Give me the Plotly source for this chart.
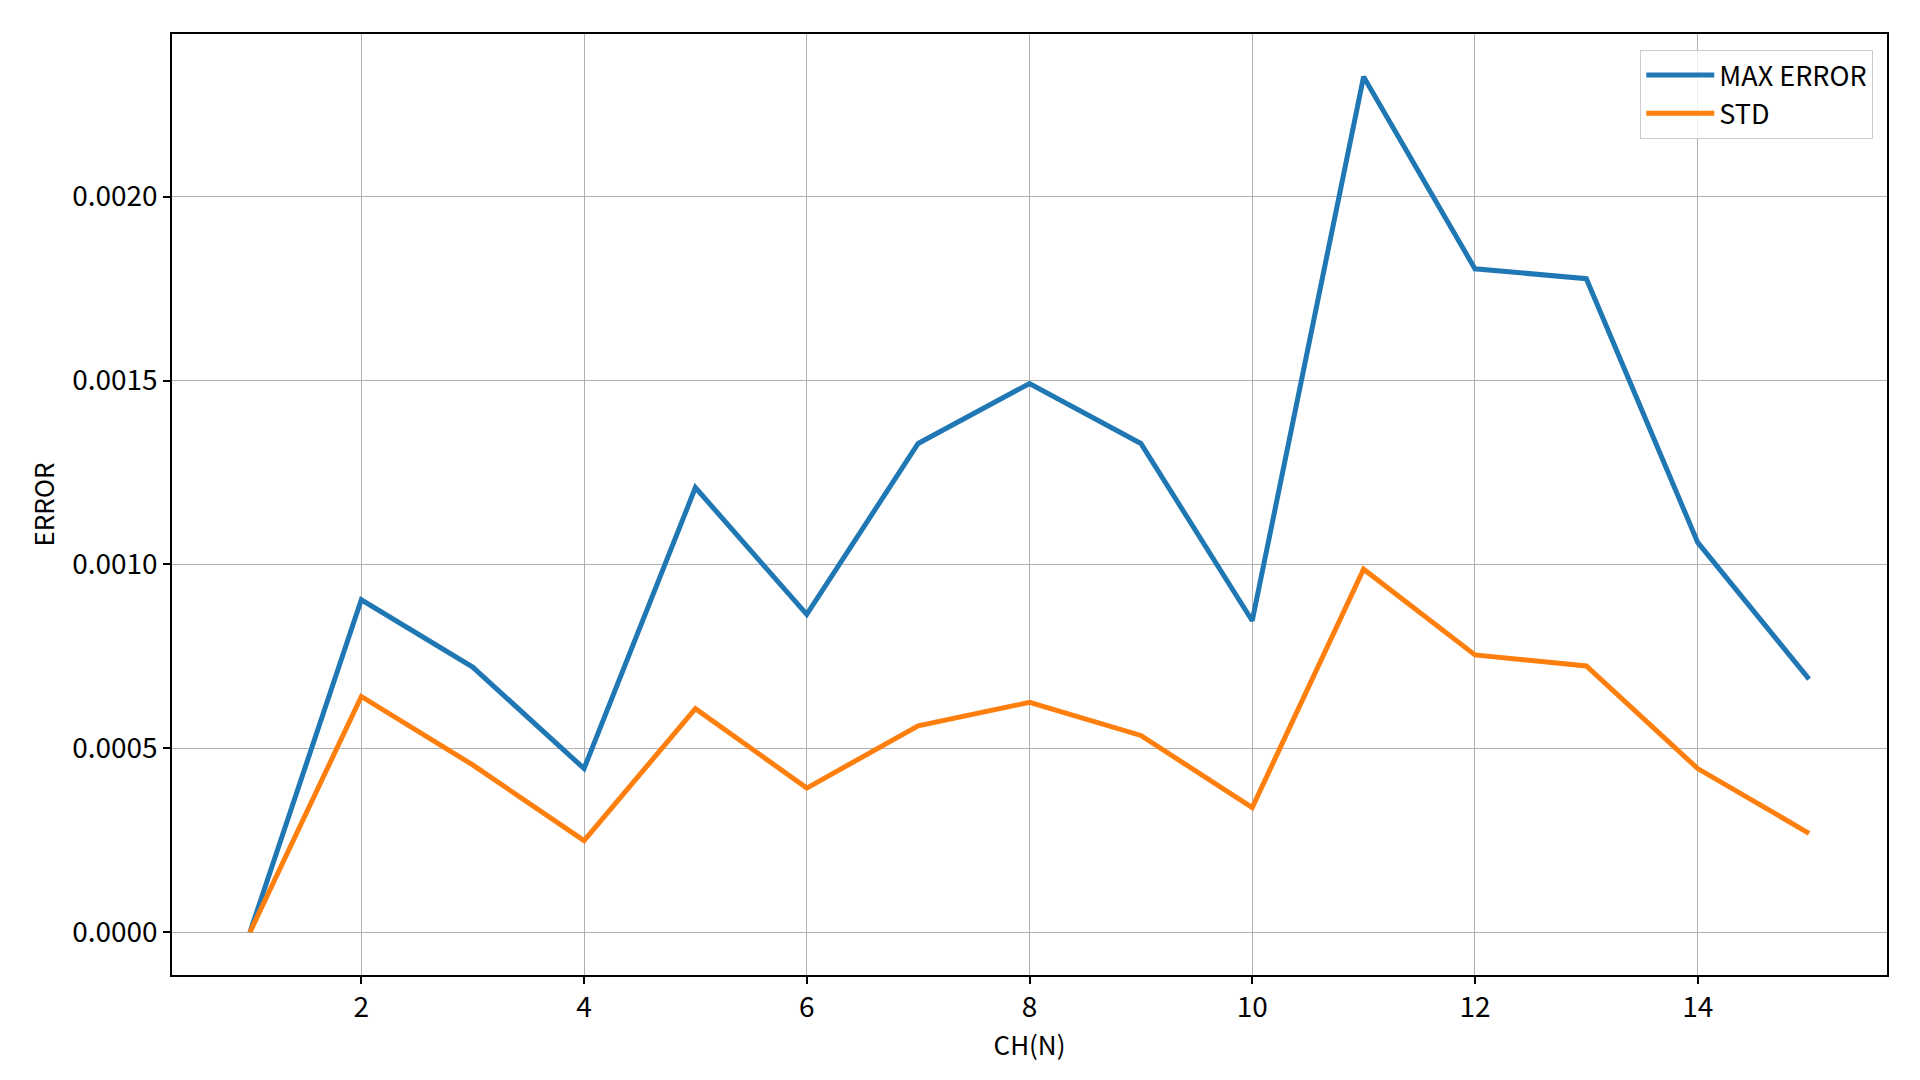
import plotly.graph_objects as go

channels = list(range(1, 16))
max_error = [0.0, 0.000904, 0.000721, 0.000445, 0.001209, 0.000864, 0.001329, 0.001492,
             0.001329, 0.000847, 0.002326, 0.001804, 0.001777, 0.00106, 0.000688]
std = [0.0, 0.000641, 0.000455, 0.000249, 0.000608, 0.000392, 0.000561, 0.000625,
       0.000535, 0.000339, 0.000987, 0.000754, 0.000724, 0.000445, 0.000269]
y_ticks = [0.0, 0.0005, 0.0010, 0.0015, 0.0020]
y_tick_labels = ["0.0000", "0.0005", "0.0010", "0.0015", "0.0020"]
x_ticks = [2, 4, 6, 8, 10, 12, 14]

FONT = "Noto Sans CJK SC"

fig = go.Figure()
fig.add_trace(go.Scatter(x=channels, y=max_error, mode="lines", name="MAX ERROR",
                         line=dict(color="#1f77b4", width=5)))
fig.add_trace(go.Scatter(x=channels, y=std, mode="lines", name="STD",
                         line=dict(color="#ff7f0e", width=5)))

axis_common = dict(
    showline=True, linecolor="black", linewidth=1.5, mirror=True,
    ticks="outside", ticklen=7, tickcolor="black", tickwidth=1.5,
    showgrid=True, gridcolor="#b0b0b0", gridwidth=1, zeroline=False,
    tickfont=dict(family=FONT, size=28, color="black"),
)

# 5% padding like matplotlib autoscaling
ymax = max(max_error)
ypad = 0.05 * ymax
fig.update_layout(
    width=1920, height=1080,
    paper_bgcolor="white", plot_bgcolor="white",
    margin=dict(l=164, r=41, t=26, b=113),
    font=dict(family=FONT, color="black"),
    xaxis=dict(axis_common, range=[0.3, 15.7], tickvals=x_ticks,
               title=dict(text="CH(N)", font=dict(family=FONT, size=26), standoff=0)),
    yaxis=dict(axis_common, range=[-ypad, ymax + ypad], tickvals=y_ticks,
               ticktext=y_tick_labels,
               title=dict(text="ERROR", font=dict(family=FONT, size=26), standoff=10)),
    legend=dict(x=0.992, y=0.983, xanchor="right", yanchor="top",
                bgcolor="rgba(255,255,255,0.8)", bordercolor="#cccccc", borderwidth=1,
                font=dict(family=FONT, size=27, color="black"),
                itemwidth=68),
)

fig.write_html("out.html")
